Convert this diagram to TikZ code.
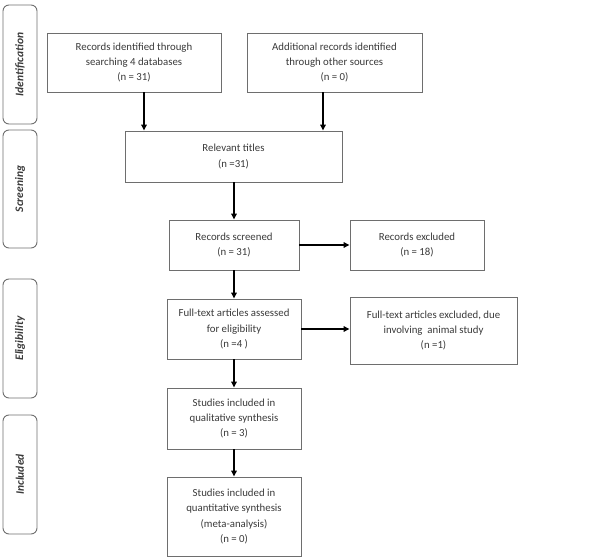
\documentclass[tikz,border=0pt]{standalone}
\usepackage{fontspec}
\setmainfont{Carlito}
\usetikzlibrary{arrows.meta,positioning}
\definecolor{PRInk}{HTML}{3A3A3A}
\definecolor{PRLine}{HTML}{6E6E6E}

\begin{document}
\begin{tikzpicture}[x=1pt,y=-1pt,
          stagebox/.style={draw=PRLine,fill=white,line width=0.9pt,
            text=PRInk,align=center,inner sep=2pt,
            font=\fontsize{10.8}{15.2}\selectfont},
          phase/.style={draw=PRLine,rounded corners=6pt,line width=0.9pt,
            minimum width=34pt,minimum height=119pt,inner sep=0pt},
          phaselabel/.style={rotate=90,text=PRInk,
            font=\fontsize{11.5}{13}\selectfont\bfseries\itshape},
          arr/.style={-{Triangle[length=6pt,width=5.5pt]},line width=1.5pt,draw=black}
        ]
        \useasboundingbox (0,0) rectangle (610,559);
        % phases on the left
        \node[phase] (pid) at (20,64.5) {};
        \node[phaselabel] at (pid.center) {Identification};
        \node[phase,minimum height=118pt] (psc) at (20,189) {};
        \node[phaselabel] at (psc.center) {Screening};
        \node[phase] (pel) at (20,338.5) {};
        \node[phaselabel] at (pel.center) {Eligibility};
        \node[phase] (pin) at (20,474.5) {};
        \node[phaselabel] at (pin.center) {Included};
        % flow boxes
        \node[stagebox,minimum width=174pt,minimum height=59pt] (ident) at (134,62.5)
          {Records identified through\\searching 4 databases\\(n = 31)};
        \node[stagebox,minimum width=175pt,minimum height=59pt] (other) at (334.5,62.5)
          {Additional records identified\\through other sources\\(n = 0)};
        \node[stagebox,minimum width=217pt,minimum height=51pt] (titles) at (233.5,156.5)
          {Relevant titles\\(n =31)};
        \node[stagebox,minimum width=130pt,minimum height=50pt] (screened) at (234,245)
          {Records screened\\(n = 31)};
        \node[stagebox,minimum width=134pt,minimum height=50pt] (excluded) at (417,245)
          {Records excluded\\(n = 18)};
        \node[stagebox,minimum width=134pt,minimum height=60pt] (fulltext) at (234,329)
          {Full-text articles assessed\\for eligibility\\(n =4 )};
        \node[stagebox,minimum width=167pt,minimum height=67pt] (ftexcl) at (433.5,330.5)
          {Full-text articles excluded, due\\involving~ animal study\\(n =1)};
        \node[stagebox,minimum width=134pt,minimum height=61pt] (qual) at (234,418.5)
          {Studies included in\\qualitative synthesis\\(n = 3)};
        \node[stagebox,minimum width=134pt,minimum height=79pt] (quant) at (234,516.5)
          {Studies included in\\quantitative synthesis\\(meta-analysis)\\(n = 0)};
        % arrows
        \draw[arr] ([xshift=10pt]ident.south) -- ([xshift=10pt]ident.south |- titles.north);
        \draw[arr] ([xshift=-11.5pt]other.south) -- ([xshift=-11.5pt]other.south |- titles.north);
        \draw[arr] (titles.south -| screened.north) -- (screened.north);
        \draw[arr] (screened) -- (excluded);
        \draw[arr] (screened) -- (fulltext);
        \draw[arr] (fulltext.east) -- (fulltext.east -| ftexcl.west);
        \draw[arr] (fulltext) -- (qual);
        \draw[arr] (qual) -- (quant);
      \end{tikzpicture}
\end{document}
